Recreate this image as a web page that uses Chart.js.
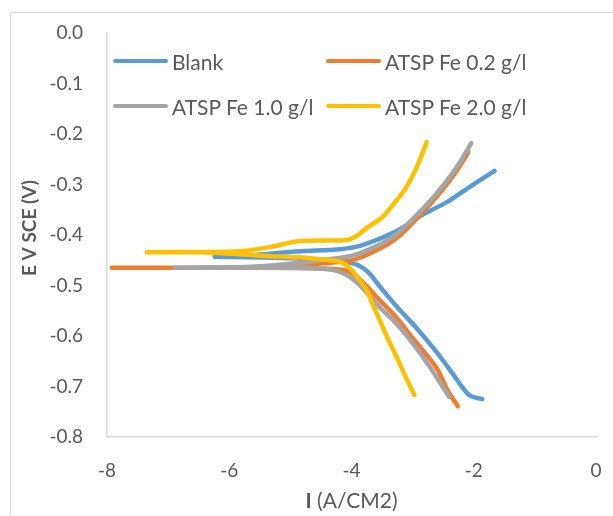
<!DOCTYPE html>
<html lang="en">
<head>
    <meta charset="UTF-8">
    <title>Tafel plot</title>
    <style>
        body {
            margin: 0;
            background: #ffffff;
            overflow: hidden;
            font-family: Lato, "Open Sans", sans-serif;
        }

        .wrap {
            position: relative;
            width: 613px;
            height: 516px;
        }

        .frame {
            position: absolute;
            left: 10px;
            top: 12px;
            width: 700px;
            height: 600px;
            border: 1px solid #d9d9d9;
        }

        canvas {
            position: absolute;
            left: 0;
            top: 0;
        }

        .legend {
            position: absolute;
            left: 113px;
            top: 47px;
            display: grid;
            grid-template-columns: 213px 213px;
            row-gap: 17px;
        }

        .legend-item {
            display: flex;
            align-items: center;
            height: 28px;
            font-size: 21px;
            color: #595959;
            white-space: nowrap;
        }

        .swatch {
            width: 55px;
            height: 4px;
            border-radius: 2px;
            margin-right: 4px;
        }
    </style>
</head>
<body>
    <div class="wrap">
        <div class="frame"></div>
        <canvas id="tafelChart" width="613" height="516"></canvas>
        <div class="legend" id="legend"></div>
    </div>

    <script src="https://cdn.jsdelivr.net/npm/chart.js"></script>
    <script>
        // log I (A/cm2) and E (V vs SCE), cathodic end -> Ecorr -> anodic end
        const blankI = [-1.86, -2.06, -2.19, -2.36, -2.62, -2.93, -3.25, -3.53, -3.74, -3.95, -4.36, -5.01, -5.66, -6.24,
                        -5.66, -4.85, -4.19, -3.82, -3.26, -2.84, -2.44, -2.07, -1.66];
        const blankE = [-0.725, -0.718, -0.701, -0.672, -0.630, -0.585, -0.543, -0.503, -0.472, -0.457, -0.450, -0.446, -0.444, -0.443,
                        -0.440, -0.432, -0.428, -0.420, -0.392, -0.360, -0.335, -0.305, -0.273];

        const fe02I = [-2.26, -2.43, -2.61, -3.00, -3.29, -3.54, -3.82, -4.03, -4.36, -5.66, -7.92,
                       -5.66, -4.85, -4.03, -3.82, -3.49, -3.24, -2.93, -2.61, -2.35, -2.18, -2.09];
        const fe02E = [-0.739, -0.707, -0.663, -0.604, -0.560, -0.529, -0.493, -0.473, -0.467, -0.465, -0.465,
                       -0.464, -0.459, -0.451, -0.443, -0.424, -0.404, -0.367, -0.325, -0.285, -0.254, -0.236];

        const fe10I = [-2.40, -2.72, -3.00, -3.29, -3.54, -3.82, -4.03, -4.31, -4.85, -5.66, -6.89,
                       -5.66, -4.85, -4.03, -3.82, -3.49, -3.24, -2.93, -2.61, -2.35, -2.18, -2.04];
        const fe10E = [-0.721, -0.661, -0.614, -0.572, -0.543, -0.505, -0.483, -0.469, -0.465, -0.465, -0.465,
                       -0.463, -0.455, -0.442, -0.434, -0.416, -0.396, -0.360, -0.318, -0.278, -0.247, -0.218];

        const fe20I = [-2.97, -3.13, -3.26, -3.41, -3.54, -3.67, -3.75, -3.87, -4.03, -4.19, -4.52, -4.85, -5.34, -5.83, -6.48, -7.35,
                       -6.48, -5.83, -5.34, -4.85, -4.08, -3.92, -3.75, -3.49, -3.26, -3.10, -2.93, -2.77];
        const fe20E = [-0.717, -0.677, -0.642, -0.604, -0.568, -0.533, -0.509, -0.489, -0.465, -0.453, -0.448, -0.444, -0.442, -0.438, -0.434, -0.434,
                       -0.434, -0.432, -0.424, -0.412, -0.410, -0.402, -0.386, -0.364, -0.331, -0.305, -0.265, -0.216];

        const seriesNames = ['Blank', 'ATSP Fe 0.2 g/l', 'ATSP Fe 1.0 g/l', 'ATSP Fe 2.0 g/l'];
        const seriesI = [blankI, fe02I, fe10I, fe20I];
        const seriesE = [blankE, fe02E, fe10E, fe20E];
        const seriesColors = ['#5B9BD5', '#ED7D31', '#A5A5A5', '#FFC000'];

        const xTickValues = [-8, -6, -4, -2, 0];
        const xTickLabels = ['-8', '-6', '-4', '-2', '0'];
        const yTickValues = [-0.8, -0.7, -0.6, -0.5, -0.4, -0.3, -0.2, -0.1, 0];
        const yTickLabels = ['-0.8', '-0.7', '-0.6', '-0.5', '-0.4', '-0.3', '-0.2', '-0.1', '0.0'];

        const xTitleBold = 'I';
        const xTitleRest = ' (A/CM2)';
        const yTitle = 'E V SCE (V)';

        const textColor = '#595959';
        const axisColor = '#d9d9d9';

        // axis titles drawn by hand so the "I" can be bold and the y title can sit like Excel's
        const axisTitles = {
            id: 'axisTitles',
            afterDraw(chart) {
                const { ctx, chartArea } = chart;
                ctx.save();
                ctx.fillStyle = textColor;
                ctx.textBaseline = 'middle';

                ctx.font = 'bold 21px Lato';
                const wBold = ctx.measureText(xTitleBold).width;
                ctx.font = '21px Lato';
                const wRest = ctx.measureText(xTitleRest).width;
                const startX = (chartArea.left + chartArea.right) / 2 - (wBold + wRest) / 2;
                ctx.textAlign = 'left';
                ctx.font = 'bold 21px Lato';
                ctx.fillText(xTitleBold, startX, 501);
                ctx.font = '21px Lato';
                ctx.fillText(xTitleRest, startX + wBold, 501);

                ctx.translate(30, 228);
                ctx.rotate(-Math.PI / 2);
                ctx.textAlign = 'center';
                ctx.font = 'bold 19px Lato';
                ctx.fillText(yTitle, 0, 0);
                ctx.restore();
            }
        };

        const datasets = seriesNames.map((name, k) => ({
            label: name,
            data: seriesI[k].map((v, i) => ({ x: v, y: seriesE[k][i] })),
            borderColor: seriesColors[k],
            backgroundColor: seriesColors[k],
            borderWidth: 4.5,
            borderCapStyle: 'round',
            borderJoinStyle: 'round',
            showLine: true,
            pointRadius: 0,
            tension: 0.3,
            // Excel draws later series on top
            order: seriesNames.length - k
        }));

        const ctx = document.getElementById('tafelChart').getContext('2d');
        const tafelChart = new Chart(ctx, {
            type: 'scatter',
            data: { datasets: datasets },
            options: {
                responsive: false,
                animation: false,
                devicePixelRatio: 1,
                layout: {
                    padding: { left: 0, right: 17, top: 33, bottom: 0 }
                },
                scales: {
                    x: {
                        type: 'linear',
                        min: -8,
                        max: 0,
                        afterBuildTicks: (s) => { s.ticks = xTickValues.map(v => ({ value: v })); },
                        // fixed box; the big tick padding must not push the plot area in
                        afterFit: (s) => { s.height = 79; s.paddingLeft = 0; s.paddingRight = 0; },
                        grid: { display: false, drawTicks: false },
                        border: { display: true, color: axisColor, width: 1.5 },
                        ticks: {
                            color: textColor,
                            font: { family: 'Lato', size: 19 },
                            padding: 22,
                            maxRotation: 0,
                            callback: (v, i) => xTickLabels[i]
                        }
                    },
                    y: {
                        type: 'linear',
                        min: -0.8,
                        max: 0,
                        afterBuildTicks: (s) => { s.ticks = yTickValues.map(v => ({ value: v })); },
                        afterFit: (s) => { s.width = 107; s.paddingTop = 0; s.paddingBottom = 0; },
                        grid: { display: false, drawTicks: false },
                        border: { display: true, color: axisColor, width: 1.5 },
                        ticks: {
                            color: textColor,
                            font: { family: 'Lato', size: 19 },
                            padding: 24,
                            callback: (v, i) => yTickLabels[i]
                        }
                    }
                },
                plugins: {
                    legend: { display: false },
                    tooltip: { enabled: false }
                }
            },
            plugins: [axisTitles]
        });

        // Legend, two columns like the Excel one
        const legendEl = document.getElementById('legend');
        tafelChart.data.datasets.forEach(ds => {
            const item = document.createElement('div');
            item.className = 'legend-item';
            const sw = document.createElement('span');
            sw.className = 'swatch';
            sw.style.background = ds.borderColor;
            const txt = document.createElement('span');
            txt.textContent = ds.label;
            item.appendChild(sw);
            item.appendChild(txt);
            legendEl.appendChild(item);
        });
    </script>
</body>
</html>
